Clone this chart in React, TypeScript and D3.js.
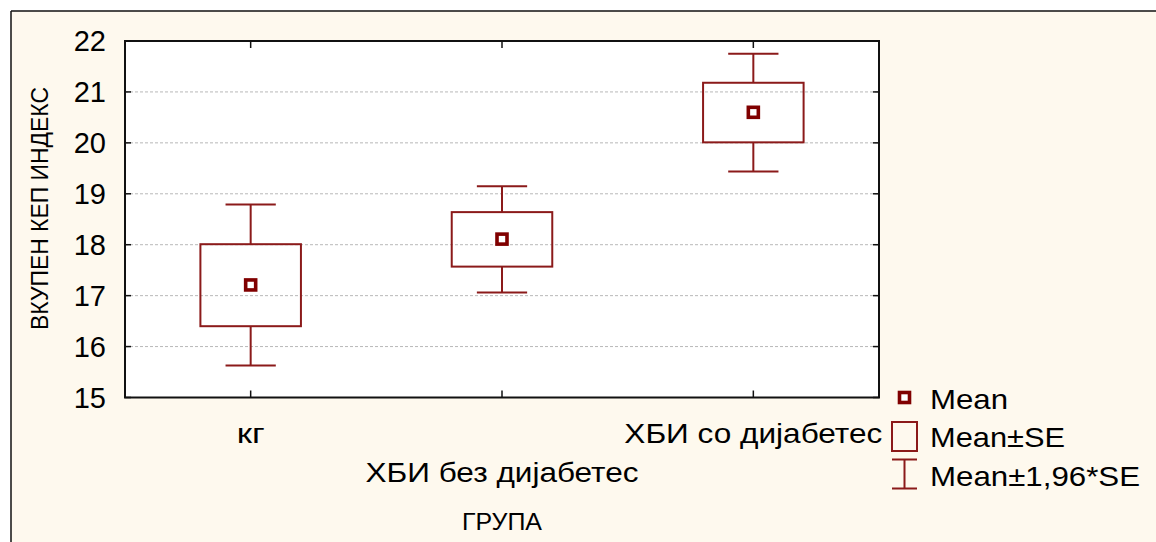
import React from "react";
import * as d3 from "d3";

// Groups and their summary statistics (ВКУПЕН КЕП ИНДЕКС)
const categories = ["кг", "ХБИ без дијабетес", "ХБИ со дијабетес"];
const means = [17.21, 18.11, 20.6];
const seLow = [16.4, 17.57, 20.01];
const seHigh = [18.01, 18.64, 21.18];
const ciLow = [15.63, 17.06, 19.44];
const ciHigh = [18.79, 19.15, 21.75];
const yTicks = [15, 16, 17, 18, 19, 20, 21, 22];

const legendItems = ["Mean", "Mean±SE", "Mean±1,96*SE"];

const W = 1156;
const H = 542;
const plot = { left: 125, right: 879, top: 41, bottom: 397.5 };

const BG = "#fef9ee";
const RED = "#8b1a1a";
const DARK_RED = "#800000";
const FONT = "'Liberation Sans', Arial, sans-serif";

// rendered text widths (px), so the wide GDI-style lettering is kept
const catWidths = [28, 273, 258];
const legendWidths = [78, 135, 210];

export default function App() {
  const x = d3
    .scaleBand<string>()
    .domain(categories)
    .range([plot.left, plot.right])
    .padding(0);
  const y = d3.scaleLinear().domain([15, 22]).range([plot.bottom, plot.top]);
  const bw = x.bandwidth();
  const boxHalf = bw * 0.2;
  const capHalf = bw * 0.1;

  const rows = categories.map((c, i) => ({
    c,
    cx: (x(c) as number) + bw / 2,
    mean: means[i],
    seLow: seLow[i],
    seHigh: seHigh[i],
    ciLow: ciLow[i],
    ciHigh: ciHigh[i],
  }));

  return (
    <svg
      width={W}
      height={H}
      style={{ position: "absolute", left: 0, top: 0, display: "block" }}
      fontFamily={FONT}
    >
      <rect x={0} y={0} width={W} height={H} fill="#ffffff" />
      <rect x={11} y={11} width={W} height={H} fill={BG} />
      <line x1={11} y1={11} x2={W} y2={11} stroke="#111" strokeWidth={1.5} />
      <line x1={11} y1={11} x2={11} y2={H} stroke="#111" strokeWidth={1.5} />

      {/* plotting area */}
      <rect
        x={plot.left}
        y={plot.top}
        width={plot.right - plot.left}
        height={plot.bottom - plot.top}
        fill="#ffffff"
      />

      {/* horizontal grid */}
      {yTicks
        .filter((t) => t > 15 && t < 22)
        .map((t) => (
          <line
            key={"g" + t}
            x1={plot.left}
            x2={plot.right}
            y1={y(t)}
            y2={y(t)}
            stroke="#b8b8b8"
            strokeWidth={1}
            strokeDasharray="3,2"
          />
        ))}

      {/* frame */}
      <rect
        x={plot.left}
        y={plot.top}
        width={plot.right - plot.left}
        height={plot.bottom - plot.top}
        fill="none"
        stroke="#111"
        strokeWidth={2}
      />

      {/* y ticks on both sides, pointing inward */}
      {yTicks.map((t) => (
        <g key={"yt" + t}>
          <line x1={plot.left} x2={plot.left + 6} y1={y(t)} y2={y(t)} stroke="#111" strokeWidth={1.5} />
          <line x1={plot.right - 6} x2={plot.right} y1={y(t)} y2={y(t)} stroke="#111" strokeWidth={1.5} />
          <text
            x={106}
            y={y(t)}
            dy="0.36em"
            textAnchor="end"
            fontSize={29}
            fill="#000"
          >
            {t}
          </text>
        </g>
      ))}

      {/* x ticks on top and bottom */}
      {rows.map((r) => (
        <g key={"xt" + r.c}>
          <line x1={r.cx} x2={r.cx} y1={plot.top} y2={plot.top + 7} stroke="#111" strokeWidth={1.5} />
          <line x1={r.cx} x2={r.cx} y1={plot.bottom - 7} y2={plot.bottom} stroke="#111" strokeWidth={1.5} />
        </g>
      ))}

      {/* whiskers, boxes and means */}
      {rows.map((r) => (
        <g key={"b" + r.c}>
          <line x1={r.cx} x2={r.cx} y1={y(r.ciHigh)} y2={y(r.seHigh)} stroke={RED} strokeWidth={2} />
          <line x1={r.cx} x2={r.cx} y1={y(r.seLow)} y2={y(r.ciLow)} stroke={RED} strokeWidth={2} />
          <line x1={r.cx - capHalf} x2={r.cx + capHalf} y1={y(r.ciHigh)} y2={y(r.ciHigh)} stroke={RED} strokeWidth={2} />
          <line x1={r.cx - capHalf} x2={r.cx + capHalf} y1={y(r.ciLow)} y2={y(r.ciLow)} stroke={RED} strokeWidth={2} />
          <rect
            x={r.cx - boxHalf}
            y={y(r.seHigh)}
            width={boxHalf * 2}
            height={y(r.seLow) - y(r.seHigh)}
            fill="none"
            stroke={RED}
            strokeWidth={2}
          />
          <rect
            x={r.cx - 5}
            y={y(r.mean) - 5}
            width={10}
            height={10}
            fill="#ffffff"
            stroke={DARK_RED}
            strokeWidth={3.6}
          />
        </g>
      ))}

      {/* category labels, alternating rows */}
      {rows.map((r, i) => (
        <text
          key={"xl" + r.c}
          x={r.cx}
          y={i % 2 === 0 ? 443 : 482}
          textAnchor="middle"
          fontSize={28.5}
          textLength={catWidths[i]}
          lengthAdjust="spacingAndGlyphs"
          fill="#000"
        >
          {r.c}
        </text>
      ))}

      {/* axis titles */}
      <text
        x={502}
        y={530}
        textAnchor="middle"
        fontSize={24.5}
        textLength={80}
        lengthAdjust="spacingAndGlyphs"
        fill="#000"
      >
        ГРУПА
      </text>
      <text
        transform="translate(48,208.5) rotate(-90)"
        textAnchor="middle"
        fontSize={24}
        textLength={243}
        lengthAdjust="spacingAndGlyphs"
        fill="#000"
      >
        ВКУПЕН КЕП ИНДЕКС
      </text>

      {/* legend */}
      <g>
        <rect x={899.5} y={392.5} width={10} height={10} fill="#ffffff" stroke={DARK_RED} strokeWidth={3.6} />
        <rect x={892} y={422} width={25} height={29} fill="none" stroke={RED} strokeWidth={2} />
        <line x1={892} x2={917} y1={459.5} y2={459.5} stroke={RED} strokeWidth={2} />
        <line x1={892} x2={917} y1={488.5} y2={488.5} stroke={RED} strokeWidth={2} />
        <line x1={904.5} x2={904.5} y1={459.5} y2={488.5} stroke={RED} strokeWidth={2} />
        {legendItems.map((t, i) => (
          <text
            key={t}
            x={930}
            y={[409, 447, 486][i]}
            fontSize={28.5}
            textLength={legendWidths[i]}
            lengthAdjust="spacingAndGlyphs"
            fill="#000"
          >
            {t}
          </text>
        ))}
      </g>
    </svg>
  );
}
